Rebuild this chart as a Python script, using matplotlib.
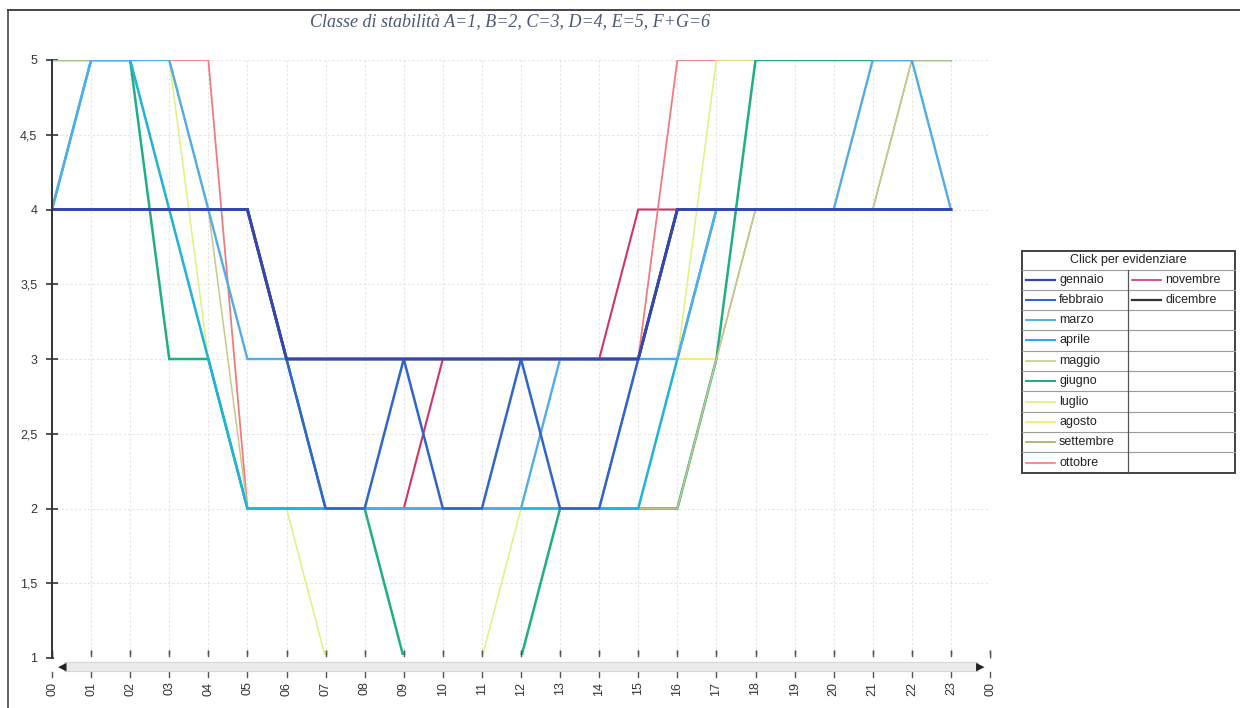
import matplotlib
matplotlib.use("Agg")
import matplotlib.pyplot as plt
from matplotlib.patches import Rectangle
from matplotlib.lines import Line2D

plt.rcParams["font.family"] = ["Liberation Sans", "DejaVu Sans"]

W, H = 1240, 708

hours = list(range(24))
hour_labels = ["00", "01", "02", "03", "04", "05", "06", "07", "08", "09", "10", "11",
               "12", "13", "14", "15", "16", "17", "18", "19", "20", "21", "22", "23", "00"]
y_ticks = [1, 1.5, 2, 2.5, 3, 3.5, 4, 4.5, 5]
y_tick_labels = ["1", "1,5", "2", "2,5", "3", "3,5", "4", "4,5", "5"]

months = ["gennaio", "febbraio", "marzo", "aprile", "maggio", "giugno",
          "luglio", "agosto", "settembre", "ottobre", "novembre", "dicembre"]

gennaio   = [4, 4, 4, 4, 4, 4, 3, 3, 3, 3, 3, 3, 3, 3, 3, 3, 4, 4, 4, 4, 4, 4, 4, 4]
febbraio  = [4, 4, 4, 4, 4, 4, 3, 2, 2, 3, 2, 2, 3, 2, 2, 3, 4, 4, 4, 4, 4, 4, 4, 4]
marzo     = [4, 5, 5, 5, 4, 3, 3, 2, 2, 2, 2, 2, 2, 3, 3, 3, 3, 4, 4, 4, 4, 5, 5, 4]
aprile    = [4, 5, 5, 4, 3, 2, 2, 2, 2, 2, 2, 2, 2, 2, 2, 2, 3, 4, 4, 4, 4, 4, 4, 4]
maggio    = [5, 5, 5, 5, 4, 2, 2, 2, 2, 2, 2, 2, 2, 2, 2, 2, 2, 3, 4, 4, 4, 4, 5, 5]
giugno    = [5, 5, 5, 3, 3, 2, 2, 2, 2, 1, 1, 1, 1, 2, 2, 2, 2, 3, 5, 5, 5, 5, 5, 5]
luglio    = [5, 5, 5, 5, 3, 2, 2, 1, 1, 1, 1, 1, 2, 2, 2, 2, 3, 5, 5, 5, 5, 5, 5, 5]
agosto    = [5, 5, 5, 4, 3, 2, 2, 2, 2, 2, 2, 2, 2, 2, 2, 2, 3, 3, 5, 5, 5, 5, 5, 5]
settembre = [5, 5, 5, 4, 3, 2, 2, 2, 2, 2, 2, 2, 2, 2, 2, 2, 2, 3, 4, 4, 4, 4, 5, 5]
ottobre   = [5, 5, 5, 5, 5, 2, 2, 2, 2, 2, 2, 2, 2, 2, 2, 3, 5, 5, 5, 5, 5, 5, 5, 5]
novembre  = [4, 4, 4, 4, 4, 4, 3, 2, 2, 2, 3, 3, 3, 3, 3, 4, 4, 4, 4, 4, 4, 4, 4, 4]
dicembre  = [4, 4, 4, 4, 4, 4, 3, 3, 3, 3, 3, 3, 3, 3, 3, 3, 4, 4, 4, 4, 4, 4, 4, 4]

series = [gennaio, febbraio, marzo, aprile, maggio, giugno,
          luglio, agosto, settembre, ottobre, novembre, dicembre]

colors = ["#3446b0", "#2f66cc", "#52ace6", "#1fb4dc", "#c9c98a", "#1fae86",
          "#e2f07e", "#f4ee4c", "#aaa862", "#f07c80", "#d23468", "#333333"]
widths = [2.0, 1.8, 1.7, 1.8, 1.1, 1.8, 1.1, 1.1, 1.1, 1.3, 1.5, 2.0]

fig = plt.figure(figsize=(W / 100, H / 100), dpi=100)
fig.patch.set_facecolor("white")


def fx(px):
    return px / W


def fy(py):
    return 1 - py / H


# page frame
fig.add_artist(Line2D([fx(8), fx(1240)], [fy(10), fy(10)], color="#444444", lw=1.4))
fig.add_artist(Line2D([fx(8), fx(8)], [fy(10), fy(708)], color="#444444", lw=1.2))

ax = fig.add_axes([fx(52), fy(658), (990 - 52) / W, (658 - 60) / H])
ax.set_xlim(0, 24)
ax.set_ylim(1, 5)

for i, (name, vals) in enumerate(zip(months, series)):
    ax.plot(hours, vals, color=colors[i], lw=widths[i], zorder=3 + (12 - i) * 0.1,
            solid_joinstyle="miter", label=name)

# the bottom edge of the plot area hides the lowest class
ax.add_patch(Rectangle((0.05, -0.01), 23.95, 0.0145, transform=ax.get_xaxis_transform(),
                       facecolor="white", edgecolor="none", zorder=5, clip_on=False))

# grid and ticks
ax.set_xticks(range(25))
ax.set_xticklabels(hour_labels, rotation=90, fontsize=9, color="#333333")
ax.set_yticks(y_ticks)
ax.set_yticklabels(y_tick_labels, fontsize=9, color="#333333")
ax.grid(True, color="#e4e4e4", lw=0.8, ls=(0, (2, 2)))
ax.set_axisbelow(True)

for s in ["top", "right", "bottom"]:
    ax.spines[s].set_visible(False)
ax.spines["left"].set_color("#333333")
ax.spines["left"].set_linewidth(1.4)
ax.spines["left"].set_zorder(6)
ax.tick_params(axis="y", direction="inout", length=9, width=1.2, colors="#333333", pad=6)
ax.tick_params(axis="x", direction="in", length=6, width=1.0, colors="#555555", pad=17)
for lbl in ax.get_xticklabels() + ax.get_yticklabels():
    lbl.set_color("#333333")

# scroll bar under the plot area
xt = ax.get_xaxis_transform()
ax.add_patch(Rectangle((0.3, -0.022), 23.4, 0.016, transform=xt, facecolor="#ebebeb",
                       edgecolor="#d6d6d6", lw=0.8, clip_on=False, zorder=6))
ax.text(0.25, -0.014, "◀", transform=xt, fontsize=8, ha="center", va="center",
        color="#222222", family="DejaVu Sans", zorder=7)
ax.text(23.75, -0.014, "▶", transform=xt, fontsize=8, ha="center", va="center",
        color="#222222", family="DejaVu Sans", zorder=7)
for t in range(25):
    ax.plot([t, t], [-0.024, -0.031], transform=xt, color="#555555", lw=1.0, clip_on=False)
    ax.plot([t, t], [0.004, 0.011], transform=xt, color="#555555", lw=1.0, clip_on=False,
            zorder=6)

# title
fig.text(fx(510), fy(22), "Classe di stabilità A=1, B=2, C=3, D=4, E=5, F+G=6",
         family="Liberation Serif", style="italic", fontsize=13, color="#4a5878",
         ha="center", va="center")

# legend table
L, R, T, B = 1022, 1235, 251, 473
MID = 1128
fig.add_artist(Rectangle((fx(L), fy(B)), fx(R) - fx(L), fy(T) - fy(B),
                         facecolor="white", edgecolor="#333333", lw=1.3))
fig.text(fx((L + R) / 2), fy(260), "Click per evidenziare", fontsize=9,
         color="#222222", ha="center", va="center")
row_tops = [270, 290, 310, 330, 351, 371, 391, 412, 432, 452, 473]
for yline in row_tops[:-1]:
    fig.add_artist(Line2D([fx(L), fx(R)], [fy(yline), fy(yline)], color="#9a9a9a", lw=0.8))
fig.add_artist(Line2D([fx(MID), fx(MID)], [fy(270), fy(B)], color="#555555", lw=0.9))

for i, name in enumerate(months):
    if i < 10:
        r, x0 = i, L
    else:
        r, x0 = i - 10, MID
    yc = (row_tops[r] + row_tops[r + 1]) / 2
    fig.add_artist(Line2D([fx(x0 + 4), fx(x0 + 33)], [fy(yc), fy(yc)],
                          color=colors[i], lw=max(widths[i] * 0.8, 1.2)))
    fig.text(fx(x0 + 37), fy(yc), name, fontsize=9, color="#222222",
             ha="left", va="center")

fig.savefig("out.png", dpi=100, facecolor="white")
